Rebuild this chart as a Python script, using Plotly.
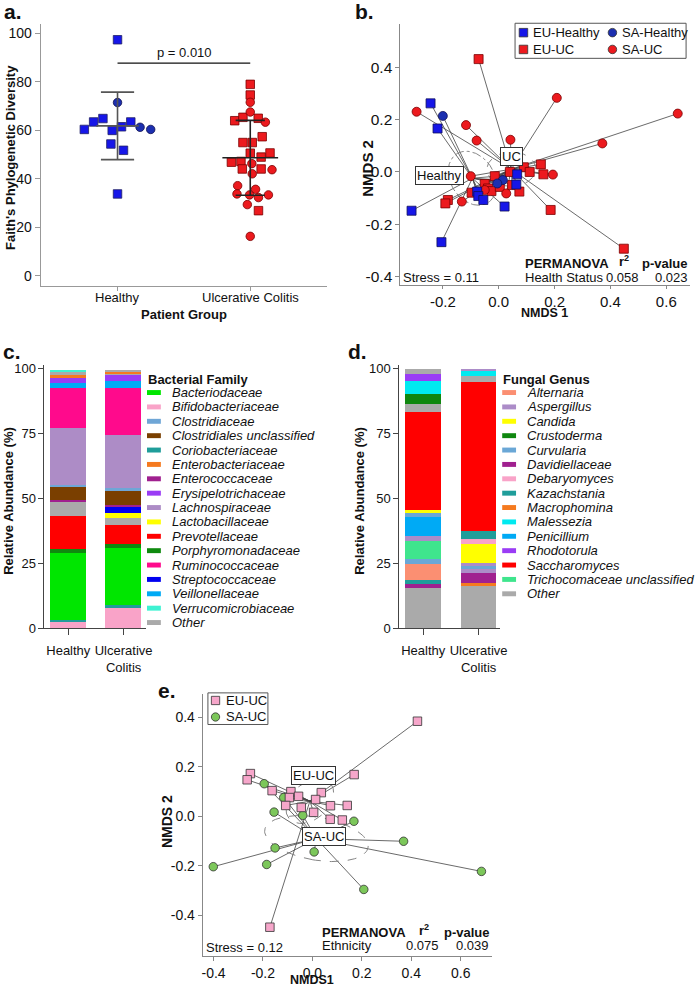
import numpy as np
import plotly.graph_objects as go

W, H = 700, 994
FONT = "Liberation Sans, Arial, Helvetica, sans-serif"


def fx(px):
    return px / W


def fy(py):
    return 1 - py / H


# ---------------- Panel a: Faith's phylogenetic diversity ----------------
groups_a = ["Healthy", "Ulcerative Colitis"]
healthy_eu_pd = [97.4, 60.4, 63.5, 64.9, 60.0, 61.5, 63.5, 54.4, 51.8, 33.8]
healthy_eu_jit = [0.0, -0.25, -0.18, -0.11, -0.04, 0.03, 0.10, -0.05, 0.045, 0.0]
healthy_sa_pd = [71.5, 61.3, 60.4]
healthy_sa_jit = [0.0, 0.17, 0.25]
uc_eu_pd = [79.0, 74.6, 64.0, 65.4, 65.0, 57.4, 55.0, 55.0, 50.6, 50.7, 49.0, 46.9, 47.2, 44.1, 44.1, 26.9]
uc_eu_jit = [0.0, 0.0, -0.117, -0.055, 0.06, 0.09, -0.055, 0.015, 0.0, 0.149, 0.082, -0.142, -0.07, -0.06, 0.082, 0.062]
uc_sa_pd = [71.6, 67.6, 63.4, 46.3, 43.8, 42.1, 37.2, 35.7, 33.8, 33.4, 32.3, 33.4, 29.4, 16.3]
uc_sa_jit = [0.0, 0.0, 0.114, 0.012, 0.164, 0.015, -0.095, 0.04, -0.1, -0.005, 0.062, 0.137, -0.022, 0.0]
p_value_text = "p = 0.010"
p_bar_level = 87.8

# ---------------- Panel b: NMDS by health status ----------------
b_eu_h_x = [-0.244, -0.219, -0.312, -0.205, 0.021, 0.066, 0.063, -0.077, -0.073, -0.055]
b_eu_h_y = [0.262, 0.166, -0.148, -0.268, -0.132, -0.009, -0.048, -0.075, -0.092, -0.107]
b_sa_h_x = [-0.200, 0.015, -0.005]
b_sa_h_y = [0.214, -0.031, -0.044]
b_eu_uc_x = [-0.072, 0.448, -0.014, 0.040, 0.090, 0.111, 0.151, 0.160, -0.050, -0.038,
             -0.026, 0.004, 0.048, 0.074, -0.097, -0.182, -0.191, 0.186]
b_eu_uc_y = [0.431, -0.293, -0.016, 0.000, 0.018, 0.000, 0.029, -0.009, -0.046, -0.063,
             -0.073, -0.057, -0.050, -0.075, -0.079, -0.107, -0.120, -0.145]
b_sa_uc_x = [-0.294, -0.117, -0.079, 0.042, 0.208, 0.641, 0.371, -0.100, 0.194, -0.050, 0.027, -0.132]
b_sa_uc_y = [0.230, 0.179, 0.120, 0.123, 0.283, 0.223, 0.109, -0.016, -0.010, -0.069, -0.082, -0.113]
b_ticks_x = [-0.2, 0.0, 0.2, 0.4, 0.6]
b_ticks_x_text = ["-0.2", "0.0", "0.2", "0.4", "0.6"]
b_ticks_y = [-0.4, -0.2, 0.0, 0.2, 0.4]
b_ticks_y_text = ["-0.4", "-0.2", "0.0", "0.2", "0.4"]
b_stats = ("Health Status", "0.058", "0.023")
b_stress = "Stress = 0.11"

# ---------------- Panel c: bacterial families ----------------
bact_legend = ["Bacteriodaceae", "Bifidobacteriaceae", "Clostridiaceae", "Clostridiales unclassified",
               "Coriobacteriaceae", "Enterobacteriaceae", "Enterococcaceae", "Erysipelotrichaceae",
               "Lachnospiraceae", "Lactobacillaceae", "Prevotellaceae", "Porphyromonadaceae",
               "Ruminococcaceae", "Streptococcaceae", "Veillonellaceae", "Verrucomicrobiaceae", "Other"]
bact_colors = ["#00e600", "#f9a3c8", "#6fa6d6", "#7a3f00", "#1f9d9a", "#f57a1f", "#a0208f", "#9a3cf5",
               "#ad8cc6", "#ffff00", "#ff0000", "#0f8a0f", "#ff0a8c", "#0000f0", "#00aaf5", "#3ef2d2", "#aaaaaa"]
bar_groups = ["Healthy", "Ulcerative<br>Colitis"]
healthy_bact_order = ["Bifidobacteriaceae", "Coriobacteriaceae", "Bacteriodaceae", "Porphyromonadaceae",
                      "Prevotellaceae", "Other", "Enterococcaceae", "Clostridiales unclassified",
                      "Clostridiaceae", "Lachnospiraceae", "Ruminococcaceae", "Veillonellaceae",
                      "Erysipelotrichaceae", "Enterobacteriaceae", "Other", "Verrucomicrobiaceae"]
healthy_bact_pct = [2.7, 0.8, 25.8, 1.5, 12.6, 5.3, 0.8, 5.3, 0.7, 21.7, 15.6, 1.9, 1.9, 1.2, 1.1, 0.7]
uc_bact_order = ["Bifidobacteriaceae", "Coriobacteriaceae", "Bacteriodaceae", "Porphyromonadaceae",
                 "Prevotellaceae", "Other", "Lactobacillaceae", "Streptococcaceae", "Enterococcaceae",
                 "Clostridiales unclassified", "Clostridiaceae", "Lachnospiraceae", "Ruminococcaceae",
                 "Veillonellaceae", "Erysipelotrichaceae", "Other", "Enterobacteriaceae", "Other"]
uc_bact_pct = [8.1, 0.9, 21.9, 1.8, 7.3, 2.8, 1.7, 2.4, 0.6, 5.4, 1.4, 20.3, 18.2, 2.7, 2.2, 0.4, 1.0, 0.5]

# ---------------- Panel d: fungal genera ----------------
fung_legend = ["Alternaria", "Aspergillus", "Candida", "Crustoderma", "Curvularia", "Davidiellaceae",
               "Debaryomyces", "Kazachstania", "Macrophomina", "Malessezia", "Penicillium", "Rhodotorula",
               "Saccharomyces", "Trichocomaceae unclassified", "Other"]
fung_colors = ["#fb8f72", "#ac8cc8", "#ffff00", "#0f870f", "#6aa7d6", "#a0208f", "#f9a3c8", "#1f9d9a",
               "#f57a1f", "#00eaf0", "#00aaf5", "#9a3cf5", "#ff0000", "#3fe58d", "#aaaaaa"]
healthy_fung_order = ["Other", "Davidiellaceae", "Kazachstania", "Alternaria", "Curvularia",
                      "Trichocomaceae unclassified", "Aspergillus", "Penicillium", "Curvularia", "Candida",
                      "Saccharomyces", "Other", "Crustoderma", "Malessezia", "Rhodotorula", "Other"]
healthy_fung_pct = [15.6, 1.5, 1.5, 6.5, 1.9, 6.8, 2.0, 7.2, 1.5, 1.2, 37.6, 3.2, 3.8, 5.1, 2.7, 1.8]
uc_fung_order = ["Other", "Macrophomina", "Davidiellaceae", "Aspergillus", "Curvularia", "Aspergillus",
                 "Candida", "Debaryomyces", "Kazachstania", "Saccharomyces", "Other", "Malessezia", "Aspergillus"]
uc_fung_pct = [16.5, 1.0, 3.8, 1.6, 1.4, 1.2, 7.0, 2.2, 2.9, 57.4, 2.3, 1.9, 0.7]

# ---------------- Panel e: NMDS UC by ethnicity ----------------
e_eu_x = [0.425, 0.169, -0.251, -0.264, -0.163, -0.087, -0.093, -0.056, 0.036, 0.013,
          -0.108, -0.045, 0.005, 0.073, 0.141, 0.072, 0.121, -0.172]
e_eu_y = [0.385, 0.169, 0.173, 0.148, 0.104, 0.100, 0.076, 0.081, 0.096, 0.068,
          0.044, 0.036, 0.016, 0.043, 0.044, -0.012, -0.015, -0.449]
e_sa_x = [-0.195, -0.116, -0.155, -0.039, 0.168, 0.369, 0.684, -0.151, -0.185, -0.401, 0.007, 0.208]
e_sa_y = [0.132, 0.076, 0.017, 0.004, -0.020, -0.101, -0.223, -0.128, -0.195, -0.204, -0.144, -0.296]
e_ticks_x = [-0.4, -0.2, 0.0, 0.2, 0.4, 0.6]
e_ticks_x_text = ["-0.4", "-0.2", "0.0", "0.2", "0.4", "0.6"]
e_ticks_y = [-0.4, -0.2, 0.0, 0.2, 0.4]
e_ticks_y_text = ["-0.4", "-0.2", "0.0", "0.2", "0.4"]
e_stats = ("Ethnicity", "0.075", "0.039")
e_stress = "Stress = 0.12"

# ---------------- colours ----------------
BLUE_SQ = "#1616e8"
BLUE_CI = "#1c2fb0"
RED = "#ec1a1e"
PINK = "#f6a6ca"
GREEN = "#7cc75a"

fig = go.Figure()
shapes = []
anns = []


def ann(text, px, py, size=13, bold=False, xanchor="center", yanchor="middle", angle=0, **kw):
    if bold:
        text = "<b>" + text + "</b>"
    d = dict(text=text, x=fx(px), y=fy(py), xref="paper", yref="paper", showarrow=False,
             xanchor=xanchor, yanchor=yanchor, textangle=angle,
             font=dict(family=FONT, size=size, color="#111"))
    d.update(kw)
    anns.append(d)


# ===== Panel a =====
def jitter_x(center, offs):
    return [center + o for o in offs]


for gi, (vals_sq, jit_sq, vals_ci, jit_ci, csq, cci, lc) in enumerate([
        (healthy_eu_pd, healthy_eu_jit, healthy_sa_pd, healthy_sa_jit, BLUE_SQ, BLUE_CI, "#555555"),
        (uc_eu_pd, uc_eu_jit, uc_sa_pd, uc_sa_jit, RED, RED, "#222222")]):
    allv = np.array(vals_sq + vals_ci)
    m, sd = allv.mean(), allv.std(ddof=1)
    hw = 0.16 if gi == 0 else 0.21
    cap = 0.125 if gi == 0 else 0.11
    xs = [gi - hw, gi + hw, None, gi, gi, None, gi - cap, gi + cap, None, gi - cap, gi + cap]
    ys = [m, m, None, m - sd, m + sd, None, m + sd, m + sd, None, m - sd, m - sd]
    fig.add_trace(go.Scatter(x=jitter_x(gi, jit_sq), y=vals_sq, mode="markers", xaxis="x", yaxis="y",
                             marker=dict(symbol="square", size=8.5, color=csq,
                                         line=dict(color="#222266" if gi == 0 else "#7a0000", width=0.8)),
                             showlegend=False))
    fig.add_trace(go.Scatter(x=jitter_x(gi, jit_ci), y=vals_ci, mode="markers", xaxis="x", yaxis="y",
                             marker=dict(symbol="circle", size=8.5, color=cci,
                                         line=dict(color="#101050" if gi == 0 else "#7a0000", width=0.8)),
                             showlegend=False))
    fig.add_trace(go.Scatter(x=xs, y=ys, mode="lines", xaxis="x", yaxis="y",
                             line=dict(color=lc, width=1.6), showlegend=False))
    # category label (tick label) placed just below the axis
    anns.append(dict(text=groups_a[gi], x=gi, y=fy(297), xref="x", yref="paper", showarrow=False,
                     xanchor="center", yanchor="middle", font=dict(family=FONT, size=13, color="#111")))

shapes.append(dict(type="line", xref="x", yref="y", x0=0, x1=1, y0=p_bar_level, y1=p_bar_level,
                   line=dict(color="#111", width=1.3)))
ann(p_value_text, 185.5, 49, size=13)
ann("Faith's Phylogenetic Diversity", 9, 155, size=13, bold=True, angle=-90)
ann("Patient Group", 185, 314, size=13, bold=True)

# ===== Panel b =====
def centroid(xs, ys):
    return float(np.mean(xs)), float(np.mean(ys))


def conf_ellipse(xs, ys, n=120):
    pts = np.column_stack([xs, ys])
    c = pts.mean(axis=0)
    cov = np.cov(pts.T) / len(xs)
    vals, vecs = np.linalg.eigh(cov)
    t = np.linspace(0, 2 * np.pi, n)
    circ = np.stack([np.cos(t), np.sin(t)])
    e = vecs @ (np.sqrt(vals)[:, None] * circ) * np.sqrt(5.991)
    return c[0] + e[0], c[1] + e[1]


def spider(xs, ys, xa, ya, dash="dash"):
    cx, cy = centroid(xs, ys)
    lx, ly = [], []
    for x, y in zip(xs, ys):
        lx += [cx, x, None]
        ly += [cy, y, None]
    fig.add_trace(go.Scatter(x=lx, y=ly, mode="lines", xaxis=xa, yaxis=ya,
                             line=dict(color="#444444", width=0.8), showlegend=False, hoverinfo="skip"))
    ex, ey = conf_ellipse(xs, ys)
    fig.add_trace(go.Scatter(x=ex, y=ey, mode="lines", xaxis=xa, yaxis=ya,
                             line=dict(color="#777777", width=0.9, dash=dash), showlegend=False,
                             hoverinfo="skip"))


h_x = b_eu_h_x + b_sa_h_x
h_y = b_eu_h_y + b_sa_h_y
u_x = b_eu_uc_x + b_sa_uc_x
u_y = b_eu_uc_y + b_sa_uc_y
spider(h_x, h_y, "x2", "y2", dash="dashdot")
spider(u_x, u_y, "x2", "y2")

for xs, ys, sym, col, lc in [
        (b_eu_uc_x, b_eu_uc_y, "square", RED, "#7a0000"),
        (b_sa_uc_x, b_sa_uc_y, "circle", RED, "#7a0000"),
        (b_eu_h_x, b_eu_h_y, "square", BLUE_SQ, "#10105a"),
        (b_sa_h_x, b_sa_h_y, "circle", BLUE_CI, "#10105a")]:
    fig.add_trace(go.Scatter(x=xs, y=ys, mode="markers", xaxis="x2", yaxis="y2",
                             marker=dict(symbol=sym, size=9, color=col, line=dict(color=lc, width=0.8)),
                             showlegend=False))

box_kw = dict(bordercolor="#333", borderwidth=1, borderpad=1, bgcolor="white")
anns.append(dict(text="Healthy", x=-0.212, y=-0.015, xref="x2", yref="y2", showarrow=False,
                 font=dict(family=FONT, size=13, color="#111"), **box_kw))
anns.append(dict(text="UC", x=0.046, y=0.06, xref="x2", yref="y2", showarrow=False,
                 font=dict(family=FONT, size=13, color="#111"), **box_kw))

# legend b
shapes.append(dict(type="rect", xref="paper", yref="paper", x0=fx(520), x1=fx(693), y0=fy(55), y1=fy(19.5),
                   line=dict(color="#555", width=1), fillcolor="white"))
leg_b = [("EU-Healthy", "square", BLUE_SQ, 528.5, 29), ("SA-Healthy", "circle", BLUE_CI, 618.5, 29),
         ("EU-UC", "square", RED, 528.5, 46), ("SA-UC", "circle", RED, 618.5, 46)]
for name, sym, col, cx, cy in leg_b:
    r = 4.3
    shapes.append(dict(type="rect" if sym == "square" else "circle", xref="paper", yref="paper",
                       x0=fx(cx - r), x1=fx(cx + r), y0=fy(cy + r), y1=fy(cy - r),
                       fillcolor=col, line=dict(color="#333", width=0.8)))
    ann(name, cx + 8, cy, size=13, xanchor="left")

ann("<b>PERMANOVA</b>", 528, 263, size=13, xanchor="left")
ann("<b>r<sup>2</sup></b>", 630, 260, size=13)
ann("<b>p-value</b>", 697, 263, size=13, xanchor="right")
ann(b_stats[0], 528, 277, size=13, xanchor="left")
ann(b_stats[1], 647, 277, size=13, xanchor="right")
ann(b_stats[2], 697, 277, size=13, xanchor="right")
ann(b_stress, 405, 277, size=13, xanchor="left")
ann("NMDS 1", 550, 312.5, size=12.5, bold=True)
ann("NMDS 2", 371, 166, size=15, bold=True, angle=-90)

# ===== Panels c & d: stacked bars =====
def stacked(order, pcts, xpos, cmap, xa, ya):
    for name, v in zip(order, pcts):
        fig.add_trace(go.Bar(x=[xpos], y=[v], width=0.64, xaxis=xa, yaxis=ya,
                             marker=dict(color=cmap[name], line=dict(width=0)), showlegend=False,
                             name=name))


bact_cmap = dict(zip(bact_legend, bact_colors))
fung_cmap = dict(zip(fung_legend, fung_colors))
stacked(healthy_bact_order, healthy_bact_pct, 0, bact_cmap, "x3", "y3")
stacked(uc_bact_order, uc_bact_pct, 1, bact_cmap, "x3", "y3")
stacked(healthy_fung_order, healthy_fung_pct, 0, fung_cmap, "x4", "y4")
stacked(uc_fung_order, uc_fung_pct, 1, fung_cmap, "x4", "y4")


def custom_legend(title, names, colors, x_left, y_title, y_first, step):
    ann(title, x_left, y_title, size=13, bold=True, xanchor="left")
    for i, (n, c) in enumerate(zip(names, colors)):
        yy = y_first + i * step
        shapes.append(dict(type="rect", xref="paper", yref="paper", x0=fx(x_left + 1), x1=fx(x_left + 15),
                           y0=fy(yy + 2.5), y1=fy(yy - 2.5), fillcolor=c, line=dict(width=0)))
        ann("<i>" + n + "</i>", x_left + 24.5, yy, size=13, xanchor="left")


custom_legend("Bacterial Family", bact_legend, bact_colors, 146.7, 380, 393.3, 14.55)
custom_legend("Fungal Genus", fung_legend, fung_colors, 506, 380, 393.3, 14.55)
ann("Relative Abundance (%)", 8, 503, size=13, bold=True, angle=-90)
ann("Relative Abundance (%)", 363, 503, size=13, bold=True, angle=-90)

# ===== Panel e =====
spider(e_eu_x, e_eu_y, "x5", "y5")
spider(e_sa_x, e_sa_y, "x5", "y5")
fig.add_trace(go.Scatter(x=e_sa_x, y=e_sa_y, mode="markers", xaxis="x5", yaxis="y5",
                         marker=dict(symbol="circle", size=8.5, color=GREEN, line=dict(color="#333", width=0.8)),
                         showlegend=False))
fig.add_trace(go.Scatter(x=e_eu_x, y=e_eu_y, mode="markers", xaxis="x5", yaxis="y5",
                         marker=dict(symbol="square", size=8.5, color=PINK, line=dict(color="#333", width=0.8)),
                         showlegend=False))
anns.append(dict(text="EU-UC", x=0.004, y=0.165, xref="x5", yref="y5", showarrow=False,
                 font=dict(family=FONT, size=13, color="#111"), **box_kw))
anns.append(dict(text="SA-UC", x=0.046, y=-0.083, xref="x5", yref="y5", showarrow=False,
                 font=dict(family=FONT, size=13, color="#111"), **box_kw))

shapes.append(dict(type="rect", xref="paper", yref="paper", x0=fx(209.3), x1=fx(270), y0=fy(729.3),
                   y1=fy(697.3), line=dict(color="#555", width=1), fillcolor="white"))
for name, sym, col, cy in [("EU-UC", "square", PINK, 705), ("SA-UC", "circle", GREEN, 721.7)]:
    r = 4.2
    shapes.append(dict(type="rect" if sym == "square" else "circle", xref="paper", yref="paper",
                       x0=fx(217 - r), x1=fx(217 + r), y0=fy(cy + r), y1=fy(cy - r),
                       fillcolor=col, line=dict(color="#333", width=0.8)))
    ann(name, 225.5, cy, size=13, xanchor="left")

ann("<b>PERMANOVA</b>", 323, 940, size=13, xanchor="left")
ann("<b>r<sup>2</sup></b>", 428, 937, size=13)
ann("<b>p-value</b>", 497, 940, size=13, xanchor="right")
ann(e_stats[0], 323, 953, size=13, xanchor="left")
ann(e_stats[1], 445, 953, size=13, xanchor="right")
ann(e_stats[2], 496, 953, size=13, xanchor="right")
ann(e_stress, 205, 955, size=13, xanchor="left")
ann("NMDS1", 315, 988, size=12.5, bold=True)
ann("NMDS 2", 168, 828, size=14, bold=True, angle=-90)

# ===== panel letters =====
for letter, px, py in [("a.", 1, 8), ("b.", 356, 8), ("c.", 0, 352), ("d.", 349, 352), ("e.", 157, 695)]:
    ann(letter, px, py, size=21, bold=True, xanchor="left")

# ===== axes =====
def axis(domain, rng, anchor, linecolor, tickfont, **kw):
    d = dict(domain=domain, range=rng, anchor=anchor, showline=True, linecolor=linecolor, linewidth=1,
             ticks="outside", ticklen=5, tickcolor=linecolor, tickwidth=1, showgrid=False, zeroline=False,
             tickfont=dict(family=FONT, size=tickfont, color="#111"), fixedrange=True)
    d.update(kw)
    return d


layout_axes = dict(
    xaxis=axis([fx(40), fx(330)], [-0.58, 1.58], "y", "#999", 13, tickvals=[0, 1], ticklen=4,
               showticklabels=False),
    yaxis=axis([fy(285), fy(20)], [-4, 104], "x", "#999", 14, tickvals=[0, 20, 40, 60, 80, 100]),
    xaxis2=axis([fx(404), fx(697)], [-0.352, 0.685], "y2", "#888", 15, tickvals=b_ticks_x,
                ticktext=b_ticks_x_text, ticklen=3),
    yaxis2=axis([fy(284), fy(20)], [-0.43, 0.566], "x2", "#888", 15.5, tickvals=b_ticks_y,
                ticktext=b_ticks_y_text, ticklen=4),
    xaxis3=axis([fx(44), fx(147)], [-0.43, 1.41], "y3", "#444", 13, tickvals=[0, 1], ticktext=bar_groups,
                ticklen=6, ticklabelstandoff=4),
    yaxis3=axis([fy(632), fy(365)], [0, 101.5], "x3", "#444", 13, tickvals=[0, 25, 50, 75, 100]),
    xaxis4=axis([fx(403), fx(505)], [-0.43, 1.39], "y4", "#444", 13, tickvals=[0, 1], ticktext=bar_groups,
                ticklen=6, ticklabelstandoff=4),
    yaxis4=axis([fy(632), fy(365)], [0, 101.5], "x4", "#444", 13, tickvals=[0, 25, 50, 75, 100]),
    xaxis5=axis([fx(204), fx(497)], [-0.444, 0.728], "y5", "#888", 14, tickvals=e_ticks_x,
                ticktext=e_ticks_x_text, ticklen=4),
    yaxis5=axis([fy(964), fy(698)], [-0.567, 0.497], "x5", "#888", 14, tickvals=e_ticks_y,
                ticktext=e_ticks_y_text, ticklen=4),
)

fig.update_layout(
    width=W, height=H, margin=dict(l=0, r=0, t=0, b=0), autosize=False,
    paper_bgcolor="white", plot_bgcolor="white", barmode="stack", bargap=0,
    showlegend=False, shapes=shapes, annotations=anns,
    font=dict(family=FONT, size=13, color="#111"),
    **layout_axes,
)

fig.write_html("out.html", config={"displayModeBar": False},
               post_script="document.body.style.margin='0';document.body.style.padding='0';"
                           "document.body.style.overflow='hidden';")
